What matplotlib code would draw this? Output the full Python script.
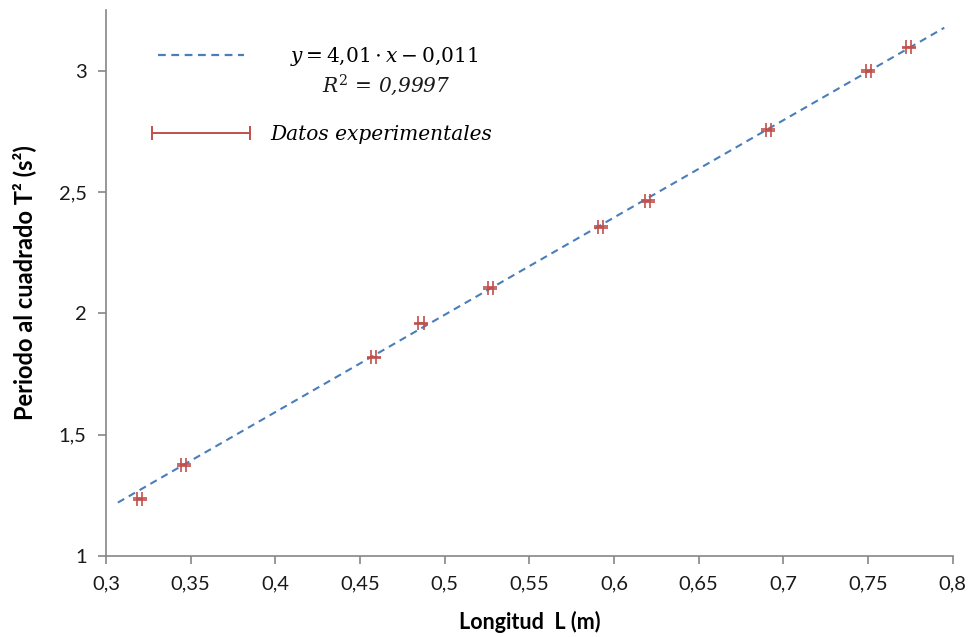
import matplotlib
matplotlib.use("Agg")
from matplotlib import pyplot as plt
from matplotlib.lines import Line2D
from matplotlib.legend_handler import HandlerLine2D
from matplotlib.ticker import MultipleLocator, FuncFormatter

plt.rcParams['font.family'] = ['Lato', 'DejaVu Sans']
plt.rcParams['mathtext.fontset'] = 'dejavuserif'

# datos experimentales: longitud L (m) y periodo al cuadrado T^2 (s^2)
longitud = [0.320, 0.346, 0.458, 0.486, 0.527, 0.592, 0.620, 0.691, 0.750, 0.774]
periodo2 = [1.235, 1.374, 1.819, 1.959, 2.105, 2.356, 2.463, 2.755, 2.998, 3.096]
err_x = 0.0015
err_y = 0.003

# recta de ajuste y = a*x + b
pendiente = 4.01
ordenada = -0.011
ajuste_x = [0.307, 0.795]
ajuste_y = [pendiente * v + ordenada for v in ajuste_x]

azul = '#4a7ebb'
rojo = '#c0504d'
gris = '#868686'

fig = plt.figure(figsize=(9.71, 6.37), dpi=100)
ax = fig.add_axes([0.1092, 0.1272, 0.8720, 0.8571])

ax.plot(ajuste_x, ajuste_y, color=azul, lw=1.5, dashes=(3.5, 2.5))
ax.errorbar(longitud, periodo2, xerr=err_x, yerr=err_y, fmt='none',
            ecolor=rojo, elinewidth=1.2, capsize=5, capthick=1.2)

ax.set_xlim(0.3, 0.8)
ax.set_ylim(1, 3.25)
ax.xaxis.set_major_locator(MultipleLocator(0.05))
ax.yaxis.set_major_locator(MultipleLocator(0.5))
coma = FuncFormatter(lambda v, p: f"{v:g}".replace('.', ','))
ax.xaxis.set_major_formatter(coma)
ax.yaxis.set_major_formatter(coma)

for s in ['top', 'right']:
    ax.spines[s].set_visible(False)
for s in ['left', 'bottom']:
    ax.spines[s].set_color(gris)
    ax.spines[s].set_linewidth(1.2)
ax.tick_params(direction='out', length=6, width=1.2, color=gris,
               labelsize=14.5, labelcolor='#1a1a1a', pad=8)

ax.set_xlabel('Longitud  L (m)', fontsize=15.5, fontweight='bold', labelpad=13)
ax.set_ylabel('Periodo al cuadrado T² (s²)', fontsize=17, fontweight='bold', labelpad=16)

# leyenda
h_ajuste = Line2D([], [], color=azul, lw=1.6, dashes=(3.5, 2.5))
h_datos = Line2D([], [], color=rojo, lw=1.4, marker='|', markersize=10, markeredgewidth=1.4)
eq = r'   $y = 4{,}01 \cdot x - 0{,}011$'
leg = ax.legend([h_ajuste, h_datos], [eq, 'Datos experimentales'],
                loc='upper left', bbox_to_anchor=(0.054, 0.935),
                frameon=False, borderpad=0, borderaxespad=0,
                handlelength=4.9, handletextpad=1.0, labelspacing=2.8,
                numpoints=2, handler_map={h_datos: HandlerLine2D(marker_pad=0)},
                prop={'family': 'DejaVu Serif', 'style': 'italic', 'size': 14.5})
eq_text = leg.get_texts()[0]
ax.annotate(r'$R^2$ = 0,9997', xy=(0.56, 0), xycoords=eq_text,
            xytext=(0, -3), textcoords='offset points', ha='center', va='top',
            family='DejaVu Serif', style='italic', fontsize=14.5, color='#1a1a1a',
            zorder=10)

fig.savefig('out.png', dpi=100)
